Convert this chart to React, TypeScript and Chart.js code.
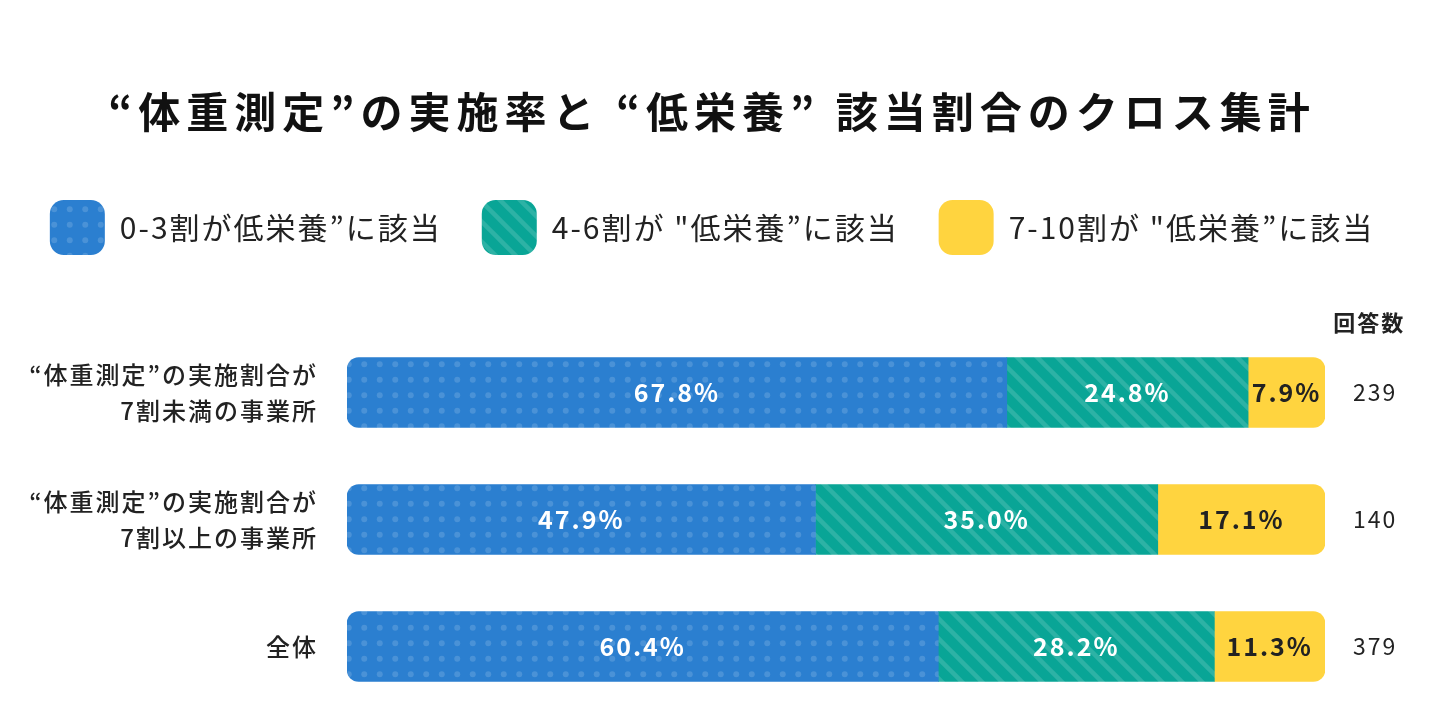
import React, { useEffect, useRef } from 'react';
import { Chart, registerables } from 'chart.js';

Chart.register(...registerables);

const FONT = '"Noto Sans CJK JP", "Noto Sans", sans-serif';

const TITLE = '“体重測定”の実施率と “低栄養” 該当割合のクロス集計';
const categories = [
  ['“体重測定”の実施割合が', '7割未満の事業所'],
  ['“体重測定”の実施割合が', '7割以上の事業所'],
  ['全体'],
];
const seriesNames = ['0-3割が低栄養”に該当', '4-6割が "低栄養”に該当', '7-10割が "低栄養”に該当'];
const low = [67.8, 47.9, 60.4];
const mid = [24.8, 35.0, 28.2];
const high = [7.9, 17.1, 11.3];
const respondents = ['239', '140', '379'];
const countHeader = '回答数';

const raw = [low, mid, high];

function makeDots(ctx: CanvasRenderingContext2D): CanvasPattern | string {
  const c = document.createElement('canvas');
  c.width = 31;
  c.height = 31;
  const g = c.getContext('2d')!;
  g.fillStyle = '#2B7FD0';
  g.fillRect(0, 0, 31, 31);
  g.fillStyle = 'rgba(255,255,255,0.15)';
  [[7.75, 7.75], [23.25, 7.75], [7.75, 23.25], [23.25, 23.25]].forEach(([x, y]) => {
    g.beginPath();
    g.arc(x, y, 3, 0, Math.PI * 2);
    g.fill();
  });
  return ctx.createPattern(c, 'repeat') || '#2B7FD0';
}

function makeStripes(ctx: CanvasRenderingContext2D): CanvasPattern | string {
  const s = 20;
  const c = document.createElement('canvas');
  c.width = s;
  c.height = s;
  const g = c.getContext('2d')!;
  g.fillStyle = '#09A596';
  g.fillRect(0, 0, s, s);
  g.strokeStyle = 'rgba(255,255,255,0.15)';
  g.lineWidth = 4.5;
  [-s, 0, s].forEach((o) => {
    g.beginPath();
    g.moveTo(o - 2, -2);
    g.lineTo(o + s + 2, s + 2);
    g.stroke();
  });
  return ctx.createPattern(c, 'repeat') || '#09A596';
}

const spacingPlugin = {
  id: 'spacing',
  beforeLayout(chart: any) {
    chart.ctx.letterSpacing = '2px';
  },
  afterLayout(chart: any) {
    const tb = chart.titleBlock;
    if (tb && !tb.__wrapped) {
      const orig = tb.draw.bind(tb);
      tb.draw = (...args: any[]) => {
        chart.ctx.letterSpacing = '6px';
        orig(...args);
        chart.ctx.letterSpacing = '2px';
      };
      tb.__wrapped = true;
    }
  },
};

const valueLabels = {
  id: 'valueLabels',
  afterDatasetsDraw(chart: any) {
    const ctx: CanvasRenderingContext2D = chart.ctx;
    chart.data.datasets.forEach((_ds: any, di: number) => {
      const meta = chart.getDatasetMeta(di);
      meta.data.forEach((el: any, i: number) => {
        const { x, y, base } = el.getProps(['x', 'y', 'base'], true);
        ctx.save();
        ctx.font = `bold 25px ${FONT}`;
        ctx.fillStyle = di === 2 ? '#222' : '#ffffff';
        ctx.textAlign = 'center';
        ctx.textBaseline = 'middle';
        ctx.fillText(raw[di][i].toFixed(1) + '%', (x + base) / 2, y);
        ctx.restore();
      });
    });
    const y2 = chart.scales.y2;
    const ys = chart.scales.y;
    ctx.save();
    ctx.font = `23px ${FONT}`;
    const w = ctx.measureText(respondents[0]).width;
    const cx = y2.left + 28 + w / 2 - 6;
    ctx.font = `bold 22px ${FONT}`;
    ctx.fillStyle = '#222';
    ctx.textAlign = 'center';
    ctx.textBaseline = 'middle';
    ctx.fillText(countHeader, cx, ys.getPixelForValue(0) - 70);
    ctx.restore();
  },
};

export default function App() {
  const ref = useRef<HTMLCanvasElement>(null);
  useEffect(() => {
    document.body.style.margin = '0';
    const canvas = ref.current!;
    const ctx = canvas.getContext('2d')!;
    const dots = makeDots(ctx);
    const stripes = makeStripes(ctx);
    const totals = categories.map((_, i) => low[i] + mid[i] + high[i]);
    const norm = (arr: number[]) => arr.map((v, i) => (v / totals[i]) * 100);
    const R = 12;
    const chart = new Chart(canvas, {
      type: 'bar',
      data: {
        labels: categories as any,
        datasets: [
          {
            label: seriesNames[0],
            data: norm(low),
            backgroundColor: dots as any,
            borderWidth: 0,
            borderSkipped: false,
            borderRadius: { topLeft: R, bottomLeft: R, topRight: 0, bottomRight: 0 },
            barThickness: 70,
          },
          {
            label: seriesNames[1],
            data: norm(mid),
            backgroundColor: stripes as any,
            borderWidth: 0,
            borderSkipped: false,
            borderRadius: 0,
            barThickness: 70,
          },
          {
            label: seriesNames[2],
            data: norm(high),
            backgroundColor: '#FFD43F',
            borderWidth: 0,
            borderSkipped: false,
            borderRadius: { topLeft: 0, bottomLeft: 0, topRight: R, bottomRight: R },
            barThickness: 70,
          },
        ],
      },
      options: {
        indexAxis: 'y',
        responsive: false,
        animation: false,
        devicePixelRatio: 1,
        layout: { padding: { left: 0, right: 24, top: 0, bottom: 6 } },
        scales: {
          x: {
            stacked: true,
            position: 'top',
            min: 0,
            max: 100,
            grid: { display: false, drawTicks: false },
            border: { display: false },
            ticks: { display: false },
            afterFit: (s: any) => {
              s.height = 64;
              s.paddingLeft = 0;
              s.paddingRight = 0;
            },
          },
          y: {
            stacked: true,
            grid: { display: false, drawTicks: false },
            border: { display: false },
            ticks: {
              padding: 29,
              color: '#222',
              font: { family: FONT, size: 24, weight: '500' as any, lineHeight: 1.5 },
            },
            afterFit: (s: any) => {
              s.width = 347;
              s.paddingTop = 0;
              s.paddingBottom = 0;
            },
          },
          y2: {
            type: 'category',
            labels: respondents,
            position: 'right',
            offset: true,
            grid: { display: false, drawTicks: false },
            border: { display: false },
            ticks: { padding: 28, color: '#222', font: { family: FONT, size: 23 } },
            afterFit: (s: any) => {
              s.width = 99;
              s.paddingTop = 0;
              s.paddingBottom = 0;
            },
          },
        } as any,
        plugins: {
          title: {
            display: true,
            text: TITLE,
            color: '#111',
            font: { family: FONT, size: 42, weight: 'bold' },
            padding: { top: 87, bottom: 22.6 },
          },
          legend: {
            position: 'top',
            labels: {
              boxWidth: 55,
              boxHeight: 55,
              useBorderRadius: true,
              borderRadius: 14,
              padding: 40,
              color: '#222',
              font: { family: FONT, size: 30 },
            },
          },
          tooltip: { enabled: false },
        },
      },
      plugins: [spacingPlugin, valueLabels],
    });
    return () => chart.destroy();
  }, []);
  return <canvas ref={ref} width={1448} height={716} style={{ display: 'block' }} />;
}
